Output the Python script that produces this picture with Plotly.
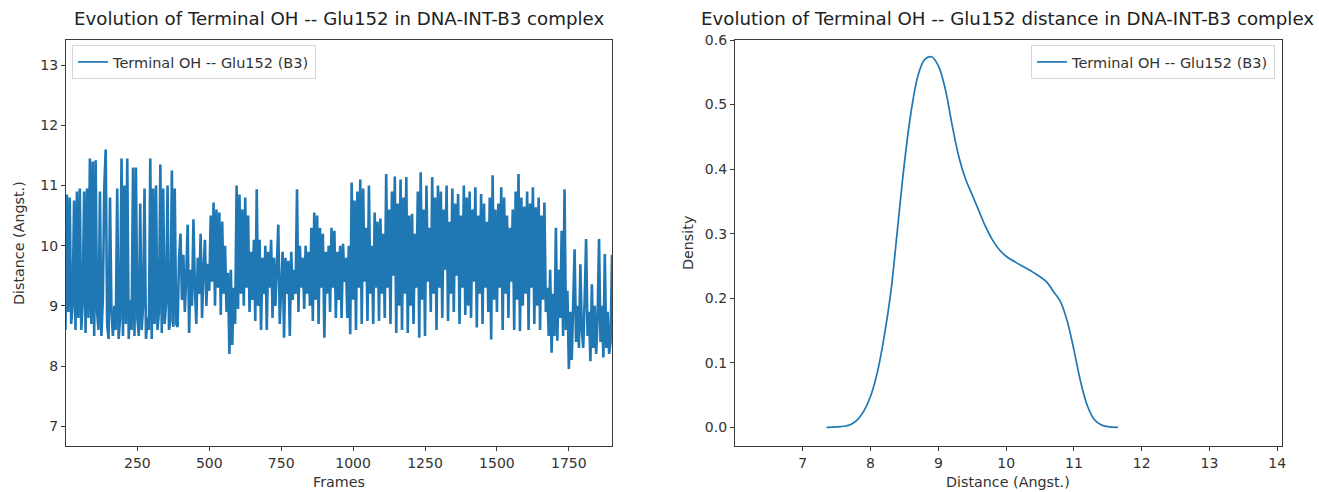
import plotly.graph_objects as go

# distance time series (one value every 5 frames)
frame_step = 5
distance = [
    8.6, 10.85, 8.9, 10.8, 8.7, 9.0, 10.75, 8.6, 10.9, 8.8, 10.95, 8.6, 9.05, 10.9, 8.55, 10.95, 8.8, 11.45, 8.7, 11.4,
    8.5, 11.42, 8.9, 8.6, 10.9, 8.5, 9.1, 10.95, 11.6, 8.7, 8.45, 10.8, 8.9, 8.5, 9.0, 8.6, 10.95, 8.45, 8.8, 11.45,
    8.5, 11.0, 8.7, 11.45, 8.45, 9.1, 8.6, 11.3, 8.5, 11.3, 8.8, 8.5, 10.7, 8.6, 9.0, 10.95, 8.45, 8.8, 8.6, 11.45,
    8.45, 10.95, 8.7, 11.0, 8.6, 8.9, 11.35, 8.55, 10.95, 8.7, 9.05, 11.0, 8.6, 8.75, 11.25, 8.65, 10.95, 8.7, 8.65, 9.8,
    10.2, 9.1, 9.85, 8.9, 9.5, 10.35, 8.55, 9.6, 9.0, 10.44, 9.3, 8.7, 9.8, 9.2, 10.2, 8.8, 9.6, 10.1, 9.0, 9.7,
    9.25, 10.5, 9.4, 10.72, 9.0, 10.6, 9.3, 10.55, 8.85, 10.4, 9.2, 10.0, 8.9, 9.55, 8.2, 9.6, 8.35, 9.3, 8.7, 11.0,
    8.95, 10.85, 9.2, 10.6, 9.0, 10.8, 9.3, 10.5, 8.9, 9.9, 9.1, 10.1, 8.75, 10.94, 9.0, 10.1, 8.6, 9.8, 9.2, 10.0,
    8.6, 9.9, 9.3, 10.1, 8.8, 9.8, 9.0, 9.9, 10.35, 8.7, 9.5, 9.9, 8.47, 9.8, 9.2, 9.75, 8.5, 9.9, 9.1, 9.6,
    9.2, 10.94, 8.9, 10.0, 9.3, 9.8, 8.95, 10.0, 9.2, 9.9, 9.0, 10.3, 8.75, 10.55, 9.1, 10.5, 8.7, 10.3, 9.3, 10.2,
    8.47, 9.9, 9.2, 10.0, 8.9, 10.3, 9.3, 10.25, 8.8, 9.9, 9.1, 10.0, 8.8, 10.03, 9.4, 9.8, 8.8, 10.0, 8.53, 11.05,
    9.1, 10.75, 8.6, 10.9, 9.3, 11.1, 8.7, 10.95, 9.4, 10.3, 8.75, 11.0, 9.2, 10.0, 8.7, 10.55, 9.3, 10.4, 8.75, 10.45,
    9.2, 10.2, 8.8, 11.19, 9.3, 10.6, 8.7, 10.9, 9.5, 11.15, 8.55, 10.7, 9.0, 11.1, 8.6, 10.8, 9.2, 11.14, 8.55, 10.5,
    9.0, 10.53, 8.7, 10.2, 9.3, 10.9, 8.47, 11.22, 9.1, 10.6, 8.5, 11.0, 9.4, 10.3, 8.9, 11.14, 9.2, 10.8, 8.6, 11.0,
    9.3, 10.9, 8.8, 10.6, 9.6, 11.0, 8.75, 10.4, 9.2, 10.95, 8.9, 10.7, 9.5, 10.86, 8.7, 10.5, 9.3, 11.0, 8.85, 10.8,
    9.0, 10.9, 8.8, 10.6, 9.4, 10.97, 8.64, 10.5, 9.2, 10.86, 8.7, 10.7, 9.3, 10.4, 8.9, 10.8, 8.44, 11.17, 9.1, 10.6,
    8.9, 10.7, 9.3, 10.97, 8.6, 10.8, 9.2, 10.5, 8.8, 10.3, 9.4, 10.6, 8.6, 10.9, 9.1, 11.19, 8.58, 10.8, 9.0, 10.65,
    9.2, 10.9, 8.6, 10.7, 9.3, 10.97, 8.7, 10.64, 9.0, 10.8, 8.6, 10.5, 9.1, 10.72, 8.9, 9.3, 8.5, 9.6, 8.22, 9.2,
    8.5, 10.3, 8.42, 9.6, 8.8, 10.25, 8.5, 10.94, 8.6, 9.25, 7.95, 8.9, 8.1, 9.2, 9.94, 8.4, 9.0, 8.3, 9.69, 8.6,
    8.3, 9.1, 10.11, 8.5, 8.9, 8.08, 9.36, 8.3, 9.0, 8.2, 8.8, 10.11, 8.4, 9.0, 8.14, 9.86, 8.3, 8.9, 8.2, 8.4,
    9.85,
]
frames = [i * frame_step for i in range(len(distance))]

# KDE of the distance
kde_x = [7.35, 7.5, 7.7, 7.8, 7.9, 8.0, 8.1, 8.2, 8.3, 8.4, 8.5, 8.6, 8.7, 8.8, 8.9, 9.0, 9.1, 9.2, 9.3, 9.4,
         9.5, 9.6, 9.7, 9.8, 9.9, 10.0, 10.2, 10.4, 10.6, 10.7, 10.8, 10.9, 11.0, 11.1, 11.2, 11.3, 11.4, 11.5, 11.65]
kde_y = [0.0, 0.0005, 0.004, 0.011, 0.025, 0.048, 0.085, 0.14, 0.21, 0.31, 0.41, 0.49, 0.545, 0.57, 0.574, 0.56,
         0.525, 0.47, 0.42, 0.385, 0.36, 0.335, 0.31, 0.29, 0.275, 0.265, 0.252, 0.24, 0.225, 0.21, 0.195, 0.165,
         0.12, 0.07, 0.033, 0.012, 0.004, 0.001, 0.0]

series_name = 'Terminal OH -- Glu152 (B3)'
left_title = 'Evolution of Terminal OH -- Glu152 in DNA-INT-B3 complex'
right_title = 'Evolution of Terminal OH -- Glu152 distance in DNA-INT-B3 complex'

BLUE = '#1f77b4'
AXC = '#3a3a3a'
FONT = 'DejaVu Sans'
W, H = 1319, 492


def px(x):
    return x / W


def py(y):
    return (H - y) / H


fig = go.Figure()
fig.add_trace(go.Scatter(x=frames, y=distance, mode='lines', name=series_name, showlegend=False,
                         line=dict(color=BLUE, width=2.6), xaxis='x', yaxis='y'))
# legend entry only (the dense trace is drawn thicker than its legend handle should be)
fig.add_trace(go.Scatter(x=[None], y=[None], mode='lines', name=series_name,
                         line=dict(color=BLUE, width=1.7), xaxis='x', yaxis='y', legend='legend'))
fig.add_trace(go.Scatter(x=kde_x, y=kde_y, mode='lines', name=series_name,
                         line=dict(color=BLUE, width=1.7, shape='spline'), xaxis='x2', yaxis='y2',
                         legend='legend2'))

ydom = [py(446), py(40)]
axis_common = dict(showline=True, mirror=True, linecolor=AXC, linewidth=1.2, ticks='outside',
                   ticklen=4, tickcolor=AXC, showgrid=False, zeroline=False, automargin=False,
                   tickfont=dict(family=FONT, size=14, color='#333'))
legend_common = dict(yanchor='top', bgcolor='rgba(255,255,255,0.8)', bordercolor='#d6d6d6', borderwidth=1,
                     font=dict(family=FONT, size=14.5, color='#333'))

fig.update_layout(
    width=W, height=H,
    paper_bgcolor='white', plot_bgcolor='white',
    margin=dict(l=0, r=0, t=0, b=0),
    font=dict(family=FONT, color='#333'),
    xaxis=dict(domain=[px(66), px(612)], range=[2, 1900], tickvals=[250, 500, 750, 1000, 1250, 1500, 1750],
               anchor='y', **axis_common),
    yaxis=dict(domain=ydom, range=[6.67, 13.42], tickvals=[7, 8, 9, 10, 11, 12, 13], anchor='x',
               **axis_common),
    xaxis2=dict(domain=[px(735), px(1282)], range=[6.0, 14.07], tickvals=[7, 8, 9, 10, 11, 12, 13, 14],
                anchor='y2', **axis_common),
    yaxis2=dict(domain=ydom, range=[-0.029, 0.6], tickvals=[0, 0.1, 0.2, 0.3, 0.4, 0.5, 0.6],
                tickformat='.1f', anchor='x2', **axis_common),
    legend=dict(x=px(72), y=py(45), xanchor='left', **legend_common),
    legend2=dict(x=px(1275), y=py(45), xanchor='right', **legend_common),
    showlegend=True,
)

ann = dict(xref='paper', yref='paper', showarrow=False, xanchor='center', yanchor='middle')
label_font = dict(family=FONT, size=14.3, color='#333')
title_font = dict(family=FONT, size=18.2, color='#222')
fig.add_annotation(text=left_title, x=px(339), y=py(19), font=title_font, **ann)
fig.add_annotation(text=right_title, x=px(1007), y=py(19), font=title_font, **ann)
fig.add_annotation(text='Frames', x=px(339), y=py(482), font=label_font, **ann)
fig.add_annotation(text='Distance (Angst.)', x=px(1008), y=py(482), font=label_font, **ann)
fig.add_annotation(text='Distance (Angst.)', x=px(19), y=py(243), textangle=-90, font=label_font, **ann)
fig.add_annotation(text='Density', x=px(688), y=py(243), textangle=-90, font=label_font, **ann)

# drop the default page margin so the figure sits flush at the window's top-left corner
fig.write_html("out.html", config={'displayModeBar': False},
               post_script="document.body.style.margin='0';document.body.style.overflow='hidden';")
